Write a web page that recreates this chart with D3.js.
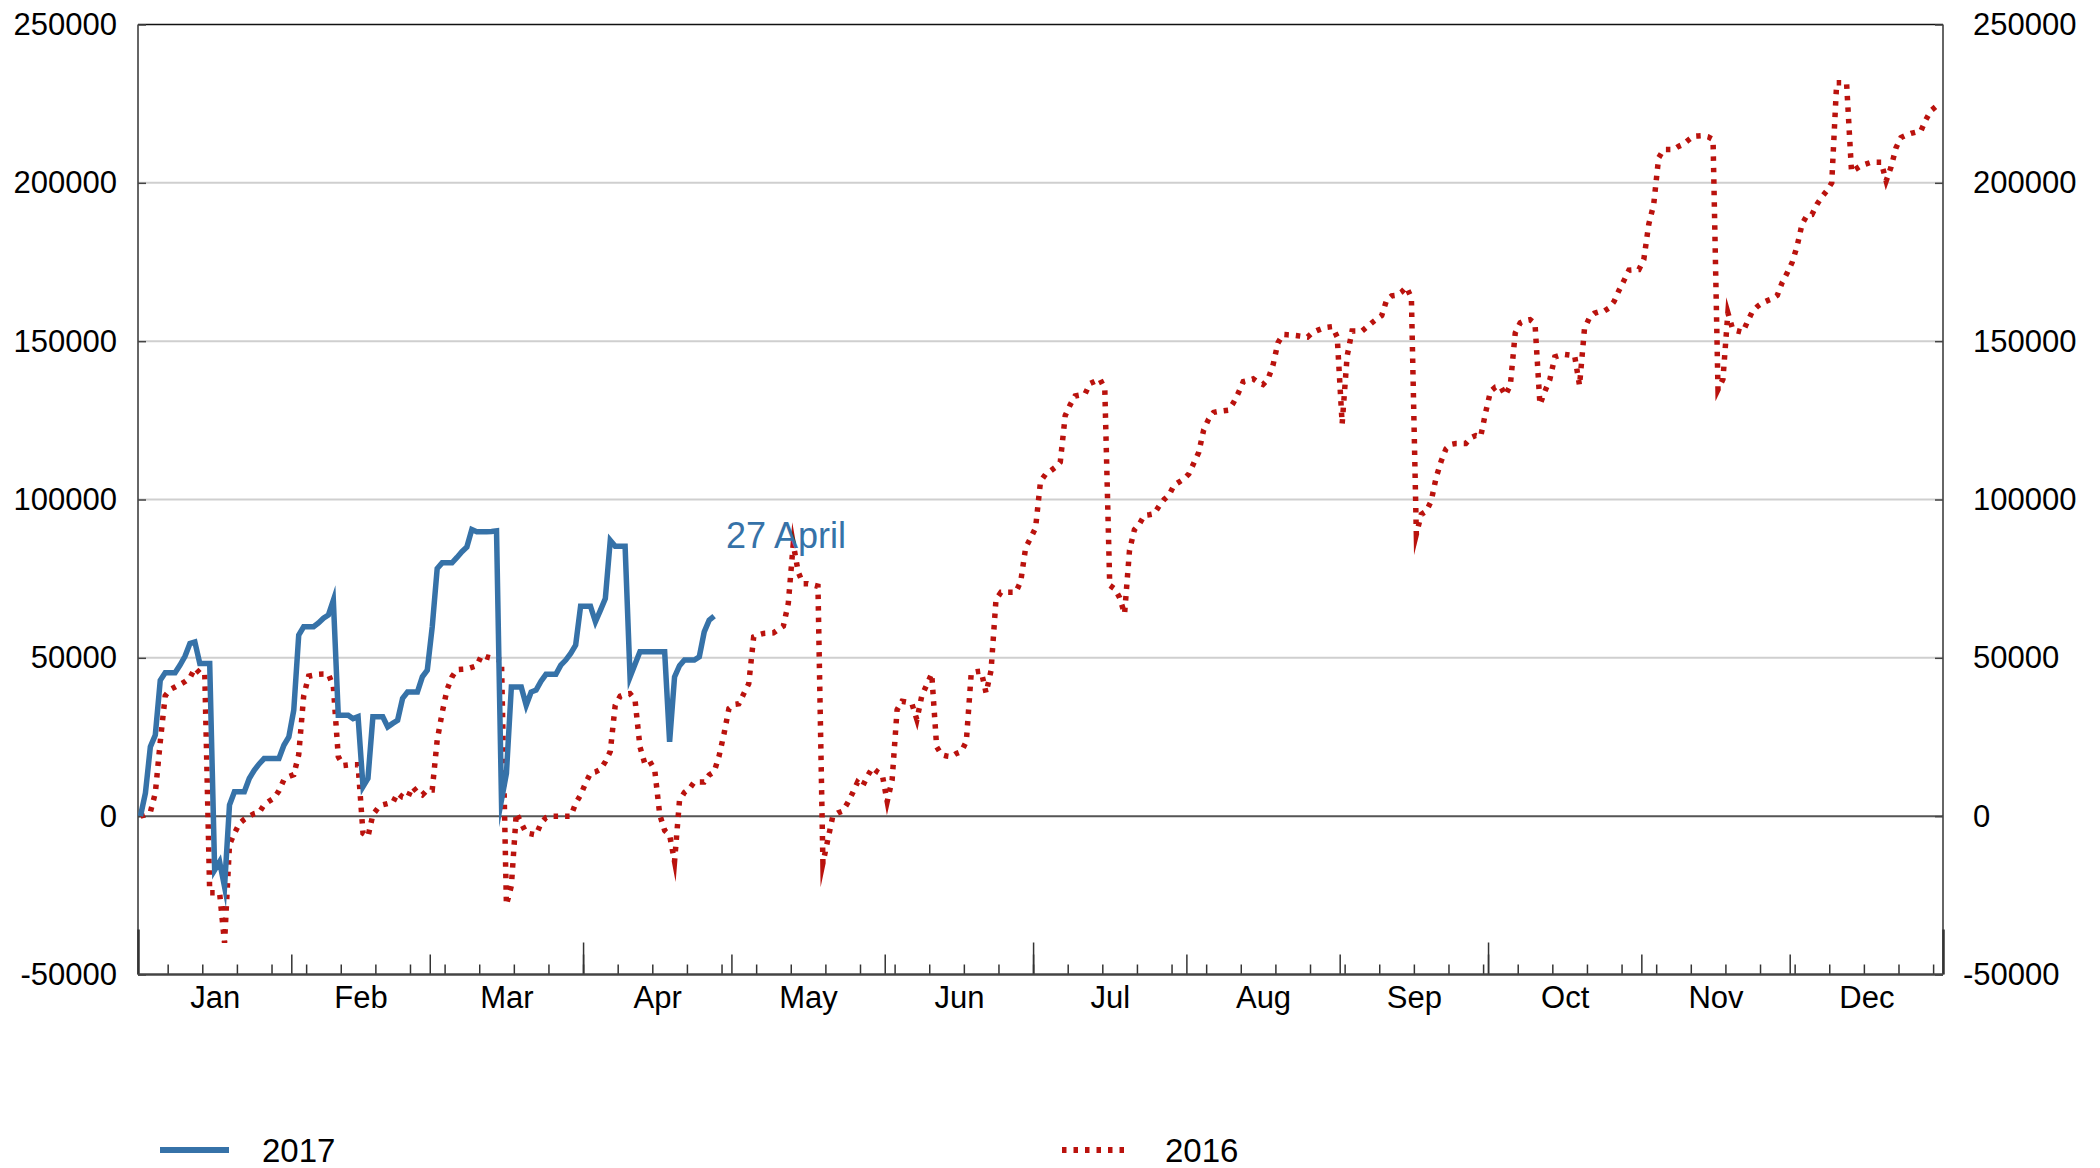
<!DOCTYPE html>
<html>
<head>
<meta charset="utf-8">
<script src="https://cdn.jsdelivr.net/npm/d3@7"></script>
<style>
  html, body { margin: 0; padding: 0; background: #fff; }
  svg { display: block; font-family: "Liberation Sans", Arial, sans-serif; }
</style>
</head>
<body>
<svg id="chart" width="2100" height="1168"></svg>
<script>
// ---------- data (values indexed by day of year, 0 = 1 January) ----------
const seriesNames = ["2017", "2016"];
const annotationText = "27 April";
const monthLabels = ["Jan","Feb","Mar","Apr","May","Jun","Jul","Aug","Sep","Oct","Nov","Dec"];
const monthStarts = [0,31,59,90,120,151,181,212,243,273,304,334,365];
const quarterStarts = [0,90,181,273,365];
const yTicks = [-50000, 0, 50000, 100000, 150000, 200000, 250000];

const values2017 = [
  0, 7300, 21900, 25600, 42900, 45300, 45300, 45300, 47700, 50500,
  54500, 55000, 48200, 48200, 48200, -17000, -14400, -22300, 3500, 7700,
  7700, 7700, 11900, 14500, 16500, 18200, 18200, 18200, 18200, 22400,
  25000, 33500, 57200, 59800, 59800, 59800, 61000, 62500, 63500, 68200,
  31900, 31900, 31900, 30800, 31400, 9300, 11900, 31400, 31400, 31400,
  28200, 29300, 30300, 37200, 39200, 39200, 39200, 44000, 46100, 59800,
  78200, 80000, 80000, 80000, 81700, 83500, 85000, 90500, 89800, 89800,
  89800, 89900, 90100, 5100, 13500, 40800, 40800, 40800, 35000, 39200,
  39800, 42600, 44800, 44800, 44800, 47700, 49300, 51400, 54000, 66300,
  66300, 66300, 61400, 65000, 68700, 87100, 85200, 85200, 85200, 44000,
  48000, 51900, 51900, 51900, 51900, 51900, 51900, 23500, 44000, 47500,
  49300, 49300, 49300, 50300, 58200, 61900, 63200
];

const values2016 = [
  0, 500, 1300, 7300, 23500, 38000, 40000, 40800, 41600, 42500,
  43700, 46800, 45200, 45200, -24200, -24200, -24200, -40000, -9000, -5400,
  -2300, -1000, 0, 800, 1200, 3600, 4700, 5700, 8000, 11500,
  12500, 13100, 19400, 37900, 44200, 44500, 44800, 44900, 44900, 41000,
  18800, 16000, 16200, 16200, 16200, -5400, -6500, 500, 2500, 3600,
  4000, 4200, 7300, 6000, 5700, 9300, 7500, 6700, 8300, 8300,
  24000, 32600, 40000, 44000, 46300, 46400, 46500, 47000, 47500, 50900,
  50300, 49900, 49500, 49300, -28000, -22000, 1000, -2200, -5300, -5600,
  -5900, -2200, -500, 0, 0, 0, 0, 0, 4000, 6700,
  10400, 13600, 14000, 14800, 17200, 20400, 35000, 37900, 38500, 38700,
  36800, 21900, 16500, 17300, 14500, 500, -4500, -6000, -14300, 5000,
  7500, 8700, 10800, 10800, 10800, 13000, 14000, 19000, 26000, 34000,
  35300, 35500, 38700, 41800, 56600, 57300, 57700, 57800, 57900, 59000,
  60000, 67200, 86000, 77100, 73400, 73400, 73000, 72600, -14800, -7400,
  0, 1000, 1600, 4200, 7300, 10700, 9400, 12600, 15300, 14000,
  13100, 4600, 11500, 33600, 36300, 36000, 35500, 30500, 38000, 41500,
  45000, 21900, 19400, 19000, 18800, 19800, 20400, 23600, 45300, 45600,
  45800, 38900, 46000, 68400, 70700, 70700, 70700, 70700, 74100, 84800,
  87800, 91000, 105700, 107900, 109000, 110200, 111800, 126500, 129900, 132700,
  133000, 133300, 136600, 137300, 138100, 135000, 72900, 71800, 69000, 63900,
  84000, 90500, 92300, 95000, 95200, 95500, 98000, 100000, 101400, 104500,
  105500, 106500, 108100, 111500, 114900, 122000, 125400, 127500, 127800, 128000,
  128200, 130500, 133600, 137200, 137600, 138100, 137000, 136300, 138000, 142300,
  149400, 152100, 152000, 151900, 151700, 151500, 151300, 152700, 153400, 154000,
  154400, 154600, 151300, 123900, 145200, 153200, 153200, 153200, 154500, 155800,
  157000, 158100, 163000, 164300, 164500, 165500, 167100, 163700, 89000, 95300,
  96300, 99500, 106900, 112000, 116000, 117400, 117700, 117700, 117700, 119500,
  120200, 119800, 127400, 134200, 135500, 135800, 132900, 136000, 152600, 155800,
  156500, 156800, 155500, 130000, 134200, 137900, 145000, 145500, 145800, 145600,
  145500, 136000, 153900, 157400, 158800, 159300, 159500, 160500, 162600, 166100,
  169200, 172400, 172500, 172600, 175800, 186900, 193200, 207900, 210500, 210500,
  210500, 211500, 212200, 213500, 214700, 214800, 214900, 214500, 213700, 134700,
  138000, 159000, 153600, 153200, 152800, 156300, 159500, 161000, 162100, 162800,
  163400, 164500, 168600, 171600, 174900, 180000, 187000, 189700, 190000, 193200,
  195500, 197500, 200000, 231600, 231600, 231600, 203500, 204500, 205500, 206000,
  206500, 206500, 206500, 200600, 205000, 211100, 214300, 215000, 215600, 216000,
  216300, 219800, 222700, 224000, 224800
];

// ---------- layout ----------
const L = 138, R = 1943, T = 24.5, B = 974.5;
const BLUE = "#3672A8", RED = "#BA120D";
const FONT = 31;
const FAMILY = "'Liberation Sans', Arial, sans-serif";

const svg = d3.select("#chart");
const x = d3.scaleLinear().domain([0, 365]).range([L, R]);
const y = d3.scaleLinear().domain([-50000, 250000]).range([B, T]);
const fmt = d => String(d);   // plain hyphen-minus as in the original

// gridlines
svg.append("g")
  .selectAll("line")
  .data(yTicks.filter(v => v !== 0 && v !== -50000 && v !== 250000))
  .join("line")
  .attr("x1", L).attr("x2", R)
  .attr("y1", d => y(d)).attr("y2", d => y(d))
  .attr("stroke", "#cfcfcf").attr("stroke-width", 2);

// zero line
svg.append("line")
  .attr("x1", L).attr("x2", R).attr("y1", y(0)).attr("y2", y(0))
  .attr("stroke", "#555").attr("stroke-width", 2);

// frame
svg.append("line").attr("x1", L).attr("x2", R).attr("y1", y(250000)).attr("y2", y(250000))
  .attr("stroke", "#111").attr("stroke-width", 1.5);
svg.append("line").attr("x1", L).attr("x2", L).attr("y1", T).attr("y2", B)
  .attr("stroke", "#333").attr("stroke-width", 1.5);
svg.append("line").attr("x1", R).attr("x2", R).attr("y1", T).attr("y2", B)
  .attr("stroke", "#333").attr("stroke-width", 1.5);

// y axes (labels + small inside ticks)
const yLeft = svg.append("g").attr("transform", `translate(${L},0)`)
  .call(d3.axisLeft(y).tickValues(yTicks).tickSize(-8).tickPadding(21).tickFormat(fmt));
const yRight = svg.append("g").attr("transform", `translate(${R},0)`)
  .call(d3.axisRight(y).tickValues(yTicks).tickSize(-8).tickPadding(30).tickFormat(fmt));
[yLeft, yRight].forEach(g => {
  g.select(".domain").remove();
  g.selectAll(".tick line").attr("stroke", "#444").attr("stroke-width", 1.5);
  g.selectAll("text").attr("font-size", FONT).attr("fill", "#000").attr("font-family", FAMILY);
});
// right axis: digits aligned, minus sign hangs left
yRight.selectAll(".tick text").each(function(d) {
  if (d < 0) d3.select(this).attr("dx", -10);
});

// x axis tick marks (pointing up from the bottom line)
const weekTicks = d3.range(6, 365, 7);
function tickLayer(vals, len, w) {
  const g = svg.append("g").attr("transform", `translate(0,${B})`)
    .call(d3.axisBottom(x).tickValues(vals).tickSize(-len).tickFormat(""));
  g.select(".domain").remove();
  g.selectAll(".tick line").attr("stroke", "#333").attr("stroke-width", w);
}
tickLayer(weekTicks, 10, 1.5);
tickLayer(monthStarts.slice(1, 12), 20, 1.5);
tickLayer(quarterStarts.slice(1, 4), 32, 1.5);
tickLayer([0, 365], 45, 2.5);

// bottom axis line
svg.append("line").attr("x1", L).attr("x2", R).attr("y1", B).attr("y2", B)
  .attr("stroke", "#444").attr("stroke-width", 2.5);

// month labels
const monthMids = monthLabels.map((m, i) => (monthStarts[i] + monthStarts[i + 1]) / 2);
const xLab = svg.append("g").attr("transform", `translate(0,${B})`)
  .call(d3.axisBottom(x).tickValues(monthMids).tickSize(0).tickPadding(11)
    .tickFormat((d, i) => monthLabels[i]));
xLab.select(".domain").remove();
xLab.selectAll("text").attr("font-size", FONT).attr("fill", "#000").attr("font-family", FAMILY);

// lines
const line = d3.line().x((d, i) => x(i + 0.5)).y(d => y(d));

svg.append("path").datum(values2016)
  .attr("d", line)
  .attr("fill", "none").attr("stroke", RED).attr("stroke-width", 5.5)
  .attr("stroke-dasharray", "4.5 7").attr("stroke-miterlimit", 10);

svg.append("path").datum(values2017)
  .attr("d", line)
  .attr("fill", "none").attr("stroke", BLUE).attr("stroke-width", 5.5)
  .attr("stroke-linejoin", "miter").attr("stroke-miterlimit", 10);

// annotation
svg.append("text").attr("x", 726).attr("y", 548).attr("font-family", FAMILY)
  .attr("font-size", 36).attr("fill", BLUE).text(annotationText);

// legend
const legY = 1150;
svg.append("line").attr("x1", 160).attr("x2", 229).attr("y1", legY).attr("y2", legY)
  .attr("stroke", BLUE).attr("stroke-width", 6);
svg.append("text").attr("x", 262).attr("y", legY + 12).attr("font-size", 33).attr("font-family", FAMILY)
  .attr("fill", "#000").text(seriesNames[0]);
svg.append("line").attr("x1", 1062).attr("x2", 1127).attr("y1", legY).attr("y2", legY)
  .attr("stroke", RED).attr("stroke-width", 6).attr("stroke-dasharray", "4.5 7");
svg.append("text").attr("x", 1165).attr("y", legY + 12).attr("font-size", 33).attr("font-family", FAMILY)
  .attr("fill", "#000").text(seriesNames[1]);
</script>
</body>
</html>
